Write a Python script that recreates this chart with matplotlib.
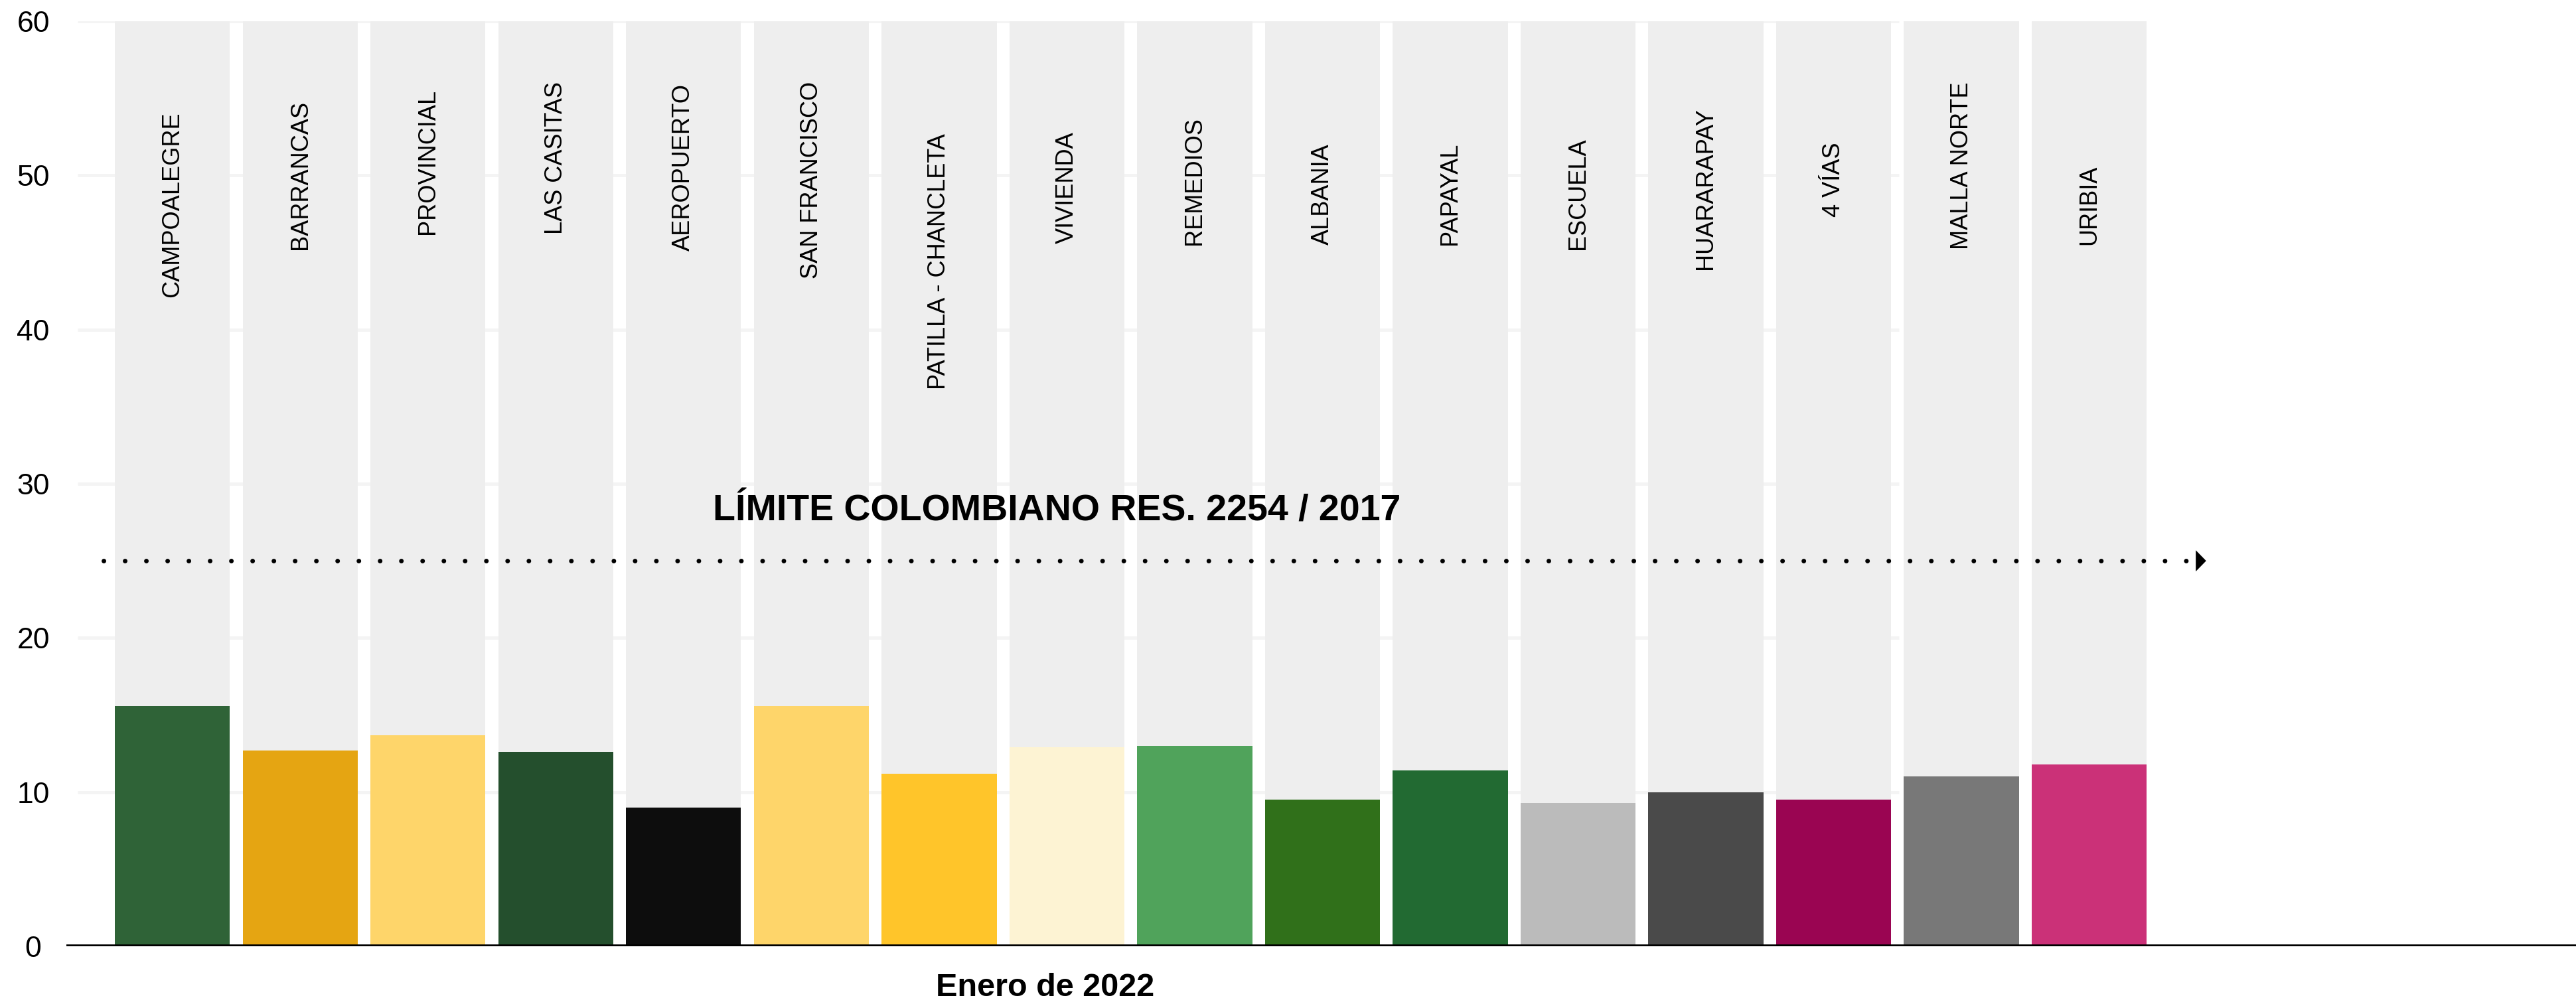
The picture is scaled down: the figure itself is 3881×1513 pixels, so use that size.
import matplotlib.pyplot as plt

# estaciones y PM2.5 promedio enero 2022
estaciones = ["CAMPOALEGRE", "BARRANCAS", "PROVINCIAL", "LAS CASITAS", "AEROPUERTO",
              "SAN FRANCISCO", "PATILLA - CHANCLETA", "VIVIENDA", "REMEDIOS", "ALBANIA",
              "PAPAYAL", "ESCUELA", "HUARARAPAY", "4 VÍAS", "MALLA NORTE", "URIBIA"]
valores = [15.6, 12.7, 13.7, 12.6, 9.0, 15.6, 11.2, 12.9, 13.0, 9.5, 11.4, 9.3, 10.0, 9.5, 11.0, 11.8]
colores = ["#2f6337", "#e5a512", "#fed56a", "#244f2d", "#0d0d0d", "#fed56a", "#ffc52a", "#fdf3d3",
           "#50a35b", "#30701a", "#226a32", "#bbbbbb", "#4a4a4a", "#9a0552", "#787878", "#cb3178"]
limite = 25
maximo = 60
yticks = [0, 10, 20, 30, 40, 50, 60]

# where each station name starts (bottom of the rotated text)
label_y = [42.1, 45.2, 46.2, 46.2, 45.1, 43.3, 36.1, 45.6, 45.5, 45.5, 45.5, 45.2, 43.9, 47.3, 45.2, 45.5]

plt.rcParams['font.family'] = ['Liberation Sans', 'DejaVu Sans']

fig = plt.figure(figsize=(38.81, 15.13), dpi=100)
ax = fig.add_axes([0.02577, 0.0575, 0.97423, 0.92135])

x = list(range(len(estaciones)))

# light grid, only on the left part
ax.hlines(yticks[1:], -0.74, 13.51, color="#f4f4f4", lw=3.6, zorder=0)

# grey background bars up to the top of the scale
ax.bar(x, [maximo] * len(x), width=0.9, color="#eeeeee", zorder=1)
ax.bar(x, valores, width=0.9, color=colores, zorder=2)

for xi, name, ly in zip(x, estaciones, label_y):
    ax.text(xi, ly, name, rotation=90, ha="center", va="bottom", fontsize=26, color="black", zorder=3)

# limit line
ax.plot([-0.54, 15.85], [limite, limite], color="black", lw=5, linestyle=(0, (0.01, 4.6)),
        dash_capstyle="round", zorder=4)
ax.annotate("", xy=(15.93, limite), xytext=(15.8, limite),
            arrowprops=dict(arrowstyle="-|>,head_length=0.45,head_width=0.46", mutation_scale=25,
                            color="black", lw=0), zorder=4)
ax.text(4.23, 28.2, "LÍMITE COLOMBIANO RES. 2254 / 2017", fontsize=40, fontweight="bold",
        ha="left", va="center", zorder=5)

ax.axhline(0, color="black", lw=4, zorder=5)

ax.set_xlim(-0.83, 18.81)
ax.set_ylim(0, maximo)
ax.set_yticks(yticks)
ax.set_xticks([])
ax.tick_params(axis="y", length=0, pad=36, labelsize=32)
for lab in ax.get_yticklabels():
    lab.set_horizontalalignment("center")
for s in ax.spines.values():
    s.set_visible(False)

fig.text(0.4056, 0.016, "Enero de 2022", fontsize=35, fontweight="bold", ha="center", va="center")

fig.savefig("out.png", dpi=100)
